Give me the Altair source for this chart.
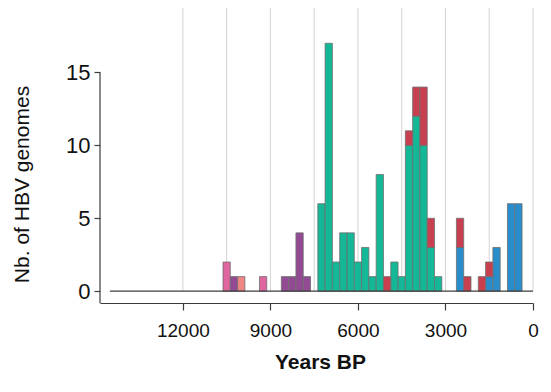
import altair as alt
import pandas as pd

# Bin centres (years BP) and counts per lineage group (250-year bins)
pink_years = [10500, 9250]
pink_counts = [2, 1]
purple_years = [10250, 8500, 8250, 8000, 7750]
purple_counts = [1, 1, 1, 4, 1]
salmon_years = [10000]
salmon_counts = [1]
teal_years = [7250, 7000, 6750, 6500, 6250, 6000, 5750, 5500, 5250,
              4750, 4500, 4250, 4000, 3750, 3500, 3250]
teal_counts = [6, 17, 2, 4, 4, 2, 3, 1, 8, 2, 1, 10, 12, 10, 3, 1]
blue_years = [2500, 1500, 1250, 750, 500]
blue_counts = [3, 1, 3, 6, 6]
red_years = [5000, 4250, 4000, 3750, 3500, 2500, 2250, 1750, 1500]
red_counts = [1, 1, 2, 4, 2, 2, 1, 1, 1]

groups = ["pink", "purple", "salmon", "teal", "blue", "red"]
colors = ["#e0669f", "#924a93", "#ef8585", "#14b896", "#2a8dcb", "#c8404f"]

x_ticks = [12000, 9000, 6000, 3000, 0]
y_ticks = [0, 5, 10, 15]
grid_years = [0, 1500, 3000, 4500, 6000, 7500, 9000, 10500, 12000]

rows = []
for order, (g, ys, cs) in enumerate([
    ("pink", pink_years, pink_counts),
    ("purple", purple_years, purple_counts),
    ("salmon", salmon_years, salmon_counts),
    ("teal", teal_years, teal_counts),
    ("blue", blue_years, blue_counts),
    ("red", red_years, red_counts),
]):
    for y, c in zip(ys, cs):
        rows.append({"center": y, "group": g, "count": c, "order": order})
df = pd.DataFrame(rows)

XMAX = 14840
YMAX = 19.42
xscale = alt.Scale(domain=[XMAX, 0], nice=False, zero=False)
yscale = alt.Scale(domain=[-0.81, YMAX], nice=False, zero=False)

grid = alt.Chart(pd.DataFrame({"g": grid_years})).mark_rule(
    color="#d4d4d4", strokeWidth=1
).encode(
    x=alt.X("g:Q", scale=xscale),
    y=alt.datum(YMAX),
    y2=alt.datum(0),
)

bars = alt.Chart(df).transform_calculate(
    x0="datum.center + 125", x1="datum.center - 125"
).transform_stack(
    stack="count", groupby=["center"], as_=["y0", "y1"],
    sort=[alt.SortField("order", order="ascending")]
).mark_bar(stroke="#6e6e6e", strokeWidth=0.8).encode(
    x=alt.X("x0:Q", scale=xscale,
            axis=alt.Axis(values=x_ticks, title="Years BP", grid=False,
                          domainColor="#3c3c3c", domainWidth=1.2,
                          tickColor="#3c3c3c", tickWidth=1.2, tickSize=7,
                          labelFontSize=19, labelColor="#111",
                          labelFont="Liberation Sans",
                          labelBaseline="alphabetic", labelPadding=26,
                          titleFontSize=21, titleFontWeight="bold",
                          titleFont="Liberation Sans", titleColor="#111",
                          titleX=220, titleY=65, titleBaseline="alphabetic",
                          format="d", labelFlush=False)),
    x2="x1:Q",
    y=alt.Y("y0:Q", scale=yscale,
            axis=alt.Axis(values=y_ticks, title="Nb. of HBV genomes",
                          grid=False, domain=False,
                          tickColor="#3c3c3c", tickWidth=1.2, tickSize=6,
                          labelFontSize=22, labelColor="#111",
                          labelFont="Liberation Sans", labelPadding=4,
                          titleFontSize=21, titleFontWeight="normal",
                          titleFont="Liberation Sans", titleColor="#111",
                          titleX=-68, titleY=176)),
    y2="y1:Q",
    color=alt.Color("group:N", scale=alt.Scale(domain=groups, range=colors),
                    legend=None),
)

baseline = alt.Chart(pd.DataFrame({"a": [0]})).mark_rule(
    color="#3c3c3c", strokeWidth=1.3
).encode(
    x=alt.datum(14500), x2=alt.datum(0), y=alt.datum(0)
)

yline = alt.Chart(pd.DataFrame({"a": [0]})).mark_rule(
    color="#3c3c3c", strokeWidth=1.2
).encode(
    x=alt.value(0), y=alt.datum(15), y2=alt.value(295.3)
)

chart = alt.layer(grid, bars, baseline, yline).properties(
    width=433, height=295,
    padding={"left": 92, "top": 0, "right": 10, "bottom": 80},
    autosize=alt.AutoSizeParams(type="none"),
).configure_view(stroke=None)

chart.save("out.html", embed_options={"renderer": "svg", "actions": False})
